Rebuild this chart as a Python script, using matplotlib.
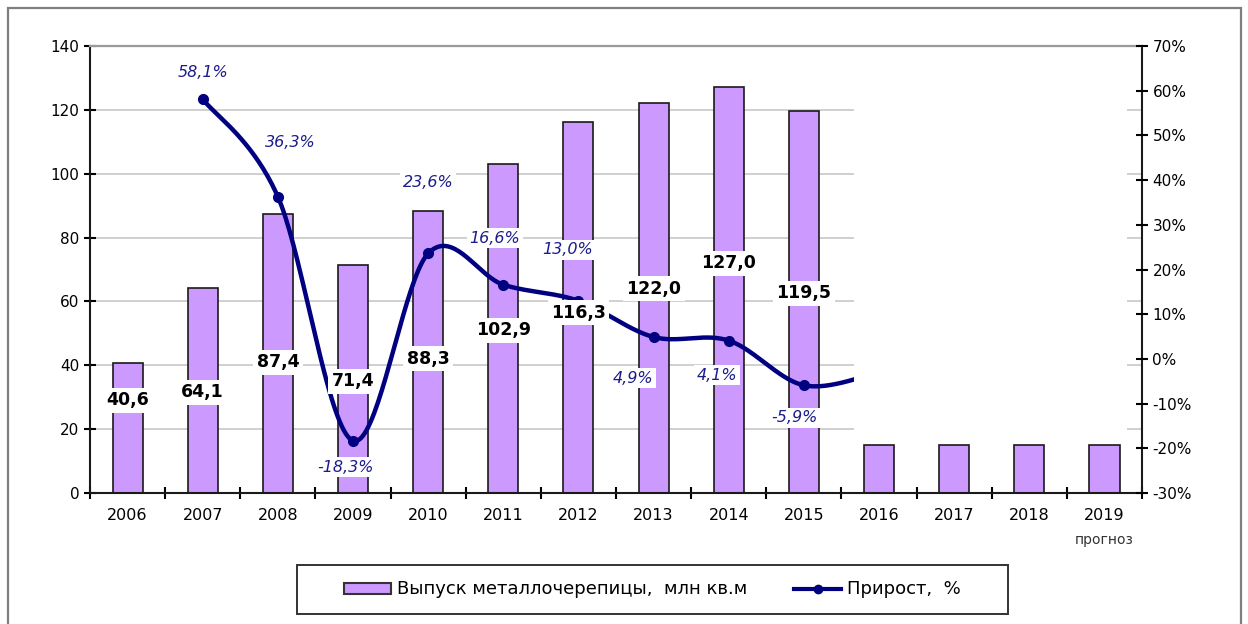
import numpy as np
import matplotlib
matplotlib.use("Agg")
import matplotlib.pyplot as plt
from matplotlib.patches import Rectangle, Patch
from matplotlib.lines import Line2D

plt.rcParams["font.family"] = ["DejaVu Sans"]

# ── данные ────────────────────────────────────────────────────────────────
years = ["2006", "2007", "2008", "2009", "2010", "2011", "2012",
         "2013", "2014", "2015", "2016", "2017", "2018", "2019"]
output_mln = [40.6, 64.1, 87.4, 71.4, 88.3, 102.9, 116.3,
              122.0, 127.0, 119.5, 15.0, 15.0, 15.0, 15.0]
output_labels = ["40,6", "64,1", "87,4", "71,4", "88,3", "102,9", "116,3",
                 "122,0", "127,0", "119,5"]
growth_years = [1, 2, 3, 4, 5, 6, 7, 8, 9]          # 2007..2015
growth_pct = [58.1, 36.3, -18.3, 23.6, 16.6, 13.0, 4.9, 4.1, -5.9]
growth_hidden_2016 = -3.0                          # скрыто под белой заливкой
growth_labels = ["58,1%", "36,3%", "-18,3%", "23,6%", "16,6%", "13,0%",
                 "4,9%", "4,1%", "-5,9%"]

# ── положения подписей (вёрстка) ─────────────────────────────────────────
bar_label_y = [29, 31.5, 41, 35, 42, 51, 56.5, 64, 72, 62.5]
pct_label_xy = [(1.0, 64.0), (2.17, 48.5), (2.9, -24.2), (4.0, 39.4),
                (4.89, 27.0), (5.85, 24.4), (6.72, -4.3), (7.85, -3.6),
                (8.88, -13.2)]

C_BAR = "#CC99FF"
C_LINE = "#000080"
C_PCT = "#1C1C8C"


def catmull_rom(x, y, n=40):
    p = np.column_stack([x, y]).astype(float)
    p = np.vstack([p[0], p, p[-1]])
    out = []
    for i in range(1, len(p) - 2):
        p0, p1, p2, p3 = p[i - 1], p[i], p[i + 1], p[i + 2]
        c1 = p1 + (p2 - p0) / 6
        c2 = p2 - (p3 - p1) / 6
        t = np.linspace(0, 1, n)[:, None]
        seg = ((1 - t) ** 3) * p1 + 3 * ((1 - t) ** 2) * t * c1 \
            + 3 * (1 - t) * t ** 2 * c2 + t ** 3 * p2
        out.append(seg if i == 1 else seg[1:])
    s = np.vstack(out)
    return s[:, 0], s[:, 1]


fig = plt.figure(figsize=(12.48, 6.24), dpi=100)
ax = fig.add_axes([0.0721, 0.2099, 0.9151 - 0.0721, 0.9263 - 0.2099])
ax2 = ax.twinx()

# внешняя рамка
fig.add_artist(Rectangle((8 / 1248, -0.01), (1241 - 8) / 1248, 1 - 8 / 624 + 0.01,
                         transform=fig.transFigure, fill=False,
                         edgecolor="#7F7F7F", lw=1.6))

x = np.arange(len(years))
ax.bar(x, output_mln, width=0.4, color=C_BAR, edgecolor="#1A1A1A", lw=1.2, zorder=2)

ax.set_xlim(-0.5, len(years) - 0.5)
ax.set_ylim(0, 140)
ax.set_yticks(np.arange(0, 141, 20))
ax.yaxis.grid(True, color="#C8C8C8", lw=1.2, zorder=0)
ax.set_axisbelow(True)
ax.set_xticks(x)
ax.set_xticklabels(years, fontsize=11.5)
ax.set_xticks(np.arange(-0.5, len(years), 1), minor=True)
ax.tick_params(axis="x", which="major", length=0, pad=11)
ax.tick_params(axis="x", which="minor", length=8, direction="inout", width=1.5)
ax.tick_params(axis="y", length=8, direction="inout", width=1.5, labelsize=11)
for s in ["left", "bottom", "right"]:
    ax.spines[s].set_linewidth(1.5)
    ax.spines[s].set_color("#1A1A1A")
ax.spines["top"].set_color("#9A9A9A")
ax.spines["top"].set_linewidth(1.6)

ax.text(13, -0.105, "прогноз", transform=ax.get_xaxis_transform(),
        ha="center", va="center", fontsize=10, color="#333333")

# линия прироста (сглаженная)
sx, sy = catmull_rom(growth_years + [10], growth_pct + [growth_hidden_2016])
ax2.plot(sx, sy, color=C_LINE, lw=3.2, zorder=3, solid_capstyle="round")
ax2.plot(growth_years, growth_pct, "o", color=C_LINE, ms=7, zorder=3)
ax2.set_ylim(-30, 70)
ax2.set_yticks(np.arange(-30, 71, 10))
ax2.set_yticklabels([f"{v}%" for v in range(-30, 71, 10)])
ax2.tick_params(axis="y", length=8, direction="inout", width=1.5, labelsize=11)
for s in ["left", "bottom", "right", "top"]:
    ax2.spines[s].set_visible(False)

# белая заливка над прогнозом
ax2.add_patch(Rectangle((9.67, 16), 13.3 - 9.67, 138 - 16, transform=ax.transData,
                        facecolor="white", edgecolor="none", zorder=4))

# подписи столбцов
for i, (lab, ly) in enumerate(zip(output_labels, bar_label_y)):
    ax2.text(i, ly, lab, transform=ax.transData, ha="center", va="center",
             fontsize=12.5, fontweight="bold", color="black", zorder=6,
             bbox=dict(facecolor="white", edgecolor="none", pad=2.5))

# подписи прироста
for lab, (lx, ly) in zip(growth_labels, pct_label_xy):
    ax2.text(lx, ly, lab, ha="center", va="center", fontsize=11.5,
             style="italic", color=C_PCT, zorder=6,
             bbox=dict(facecolor="white", edgecolor="none", pad=2))

# легенда: рамка отдельно, чтобы совпали размеры
fig.add_artist(Rectangle((297 / 1248, 1 - 614 / 624), 711 / 1248, 49 / 624,
                         transform=fig.transFigure, fill=True, facecolor="white",
                         edgecolor="#333333", lw=1.4))
handles = [Patch(facecolor=C_BAR, edgecolor="#333333", lw=1.5),
           Line2D([0], [0], color=C_LINE, lw=3, marker="o", ms=6)]
labels = ["Выпуск металлочерепицы,  млн кв.м", "Прирост,  %"]
fig.legend(handles, labels, loc="center", bbox_to_anchor=(0.5228, 0.0553),
           ncol=2, fontsize=13, frameon=False, borderpad=0.75, handlelength=2.6,
           handleheight=0.55, handletextpad=0.35, columnspacing=2.6)

fig.savefig("out.png", dpi=100)
